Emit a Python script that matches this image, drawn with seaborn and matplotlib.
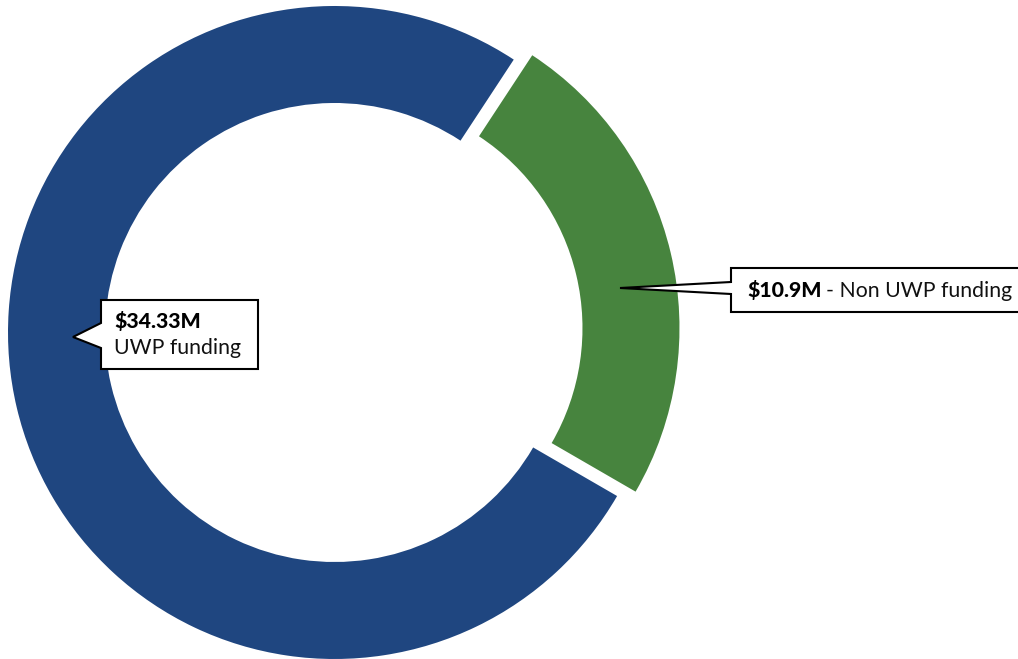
import matplotlib
matplotlib.use("Agg")
import matplotlib.pyplot as plt
import seaborn as sns
from matplotlib.patches import Polygon

sns.set_theme(style="white")
plt.rcParams['font.family'] = ['Lato', 'DejaVu Sans']

labels = ["Non UWP funding", "UWP funding"]
values = [10.9, 34.33]
value_labels = ["$10.9M", "$34.33M"]
colors = ["#47843E", "#1F4680"]

W, H = 1018, 659
fig = plt.figure(figsize=(W / 100, H / 100), dpi=100)
ax = fig.add_axes([0, 0, 1, 1])

def py(y):
    return H - y

cx, cy, R = 334.5, py(332.5), 326.5
ax.pie(values, colors=colors, startangle=56.7, counterclock=False,
       explode=[19, 0], radius=R, center=(cx, cy),
       wedgeprops=dict(width=97, linewidth=0))
ax.set_xlim(0, W)
ax.set_ylim(0, H)
ax.set_aspect("equal")
ax.axis("off")

def callout(x0, y0, x1, y1, tip, base_top, base_bot):
    pts = [(x0, py(y0)), (x1, py(y0)), (x1, py(y1)), (x0, py(y1)),
           (x0, py(base_bot)), (tip[0], py(tip[1])), (x0, py(base_top))]
    ax.add_patch(Polygon(pts, closed=True, facecolor="white", edgecolor="black",
                         linewidth=1.5, zorder=5, joinstyle="miter"))

FS = 15.3
# UWP funding callout
callout(101, 300, 258, 369, (73, 337), 323, 348)
ax.text(114, py(328), value_labels[1], fontsize=FS, fontweight="black",
        color="black", va="baseline", zorder=6)
ax.text(114, py(354), labels[1], fontsize=FS, fontweight="normal",
        color="#111111", va="baseline", zorder=6)

# Non UWP funding callout
callout(731, 268, 1030, 312, (620, 288), 282, 294)
t = ax.text(747, py(297), value_labels[0], fontsize=FS, fontweight="black",
            color="black", va="baseline", zorder=6)
fig.canvas.draw()
bb = t.get_window_extent()
ax.text(bb.x1 + 5, py(297), "- " + labels[0], fontsize=FS, fontweight="normal",
        color="#111111", va="baseline", zorder=6)

fig.savefig("out.png", dpi=100, facecolor="white")
